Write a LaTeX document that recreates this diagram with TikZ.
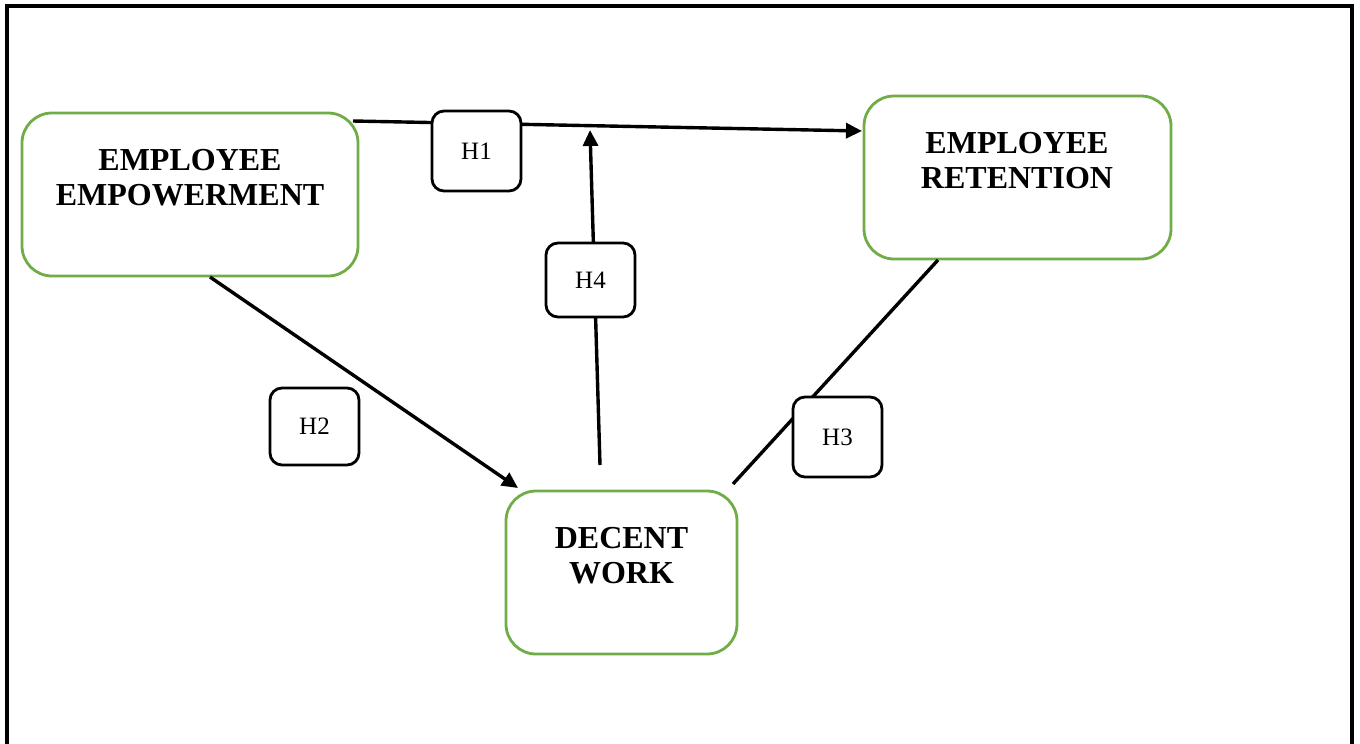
\documentclass[tikz,border=0pt]{standalone}
\usepackage{fontspec}
\setmainfont{Liberation Serif}
\usepackage{tikz}
\usetikzlibrary{arrows.meta}
\definecolor{boxgreen}{RGB}{112,173,71}

\begin{document}
\begin{tikzpicture}[x=1pt,y=-1pt,
		varbox/.style={draw=boxgreen, line width=2.8pt, rounded corners=30pt, fill=white, inner sep=0pt},
		vartext/.style={align=center, inner sep=0pt, font=\fontsize{32}{35}\selectfont\bfseries},
		hypbox/.style={draw, line width=2.8pt, rounded corners=12pt, fill=white, minimum width=89pt, minimum height=78pt, font=\fontsize{25}{30}\selectfont},
		link/.style={line width=3.4pt},
		arrowlink/.style={link, -{Triangle[length=16pt,width=15pt]}}]
		\useasboundingbox (0,0) rectangle (1360,744);
		\draw[line width=3.2pt] (7,744) -- (7,6) -- (1352,6) -- (1352,744);

		\node[varbox, minimum width=336pt, minimum height=163pt] (ee) at (190,194.5) {};
		\node[vartext] (eetext) at (190,178) {EMPLOYEE\\EMPOWERMENT};
		\node[varbox, minimum width=307pt, minimum height=163pt] (er) at (1017.5,177.5) {};
		\node[vartext] (ertext) at (1017,161) {EMPLOYEE\\RETENTION};
		\node[varbox, minimum width=231pt, minimum height=163pt] (dw) at (621.5,572.5) {};
		\node[vartext] (dwtext) at (621.5,556) {DECENT\\WORK};

		\coordinate (h1start) at (353,121);
		\coordinate (h1end) at (862,131);
		\coordinate (h2start) at (210,277);
		\coordinate (h2end) at (518,488);
		\coordinate (h3start) at (733,484);
		\coordinate (h3end) at (938,260);
		\coordinate (h4start) at (600,465);
		\coordinate (h4end) at (590,130);

		\draw[arrowlink] (h1start) to (h1end);
		\draw[arrowlink] (h2start) to (h2end);
		\draw[link] (h3start) to (h3end);
		\draw[arrowlink] (h4start) to (h4end);

		\node[hypbox, minimum height=80pt] (h1) at (476.5,151) {H1};
		\node[hypbox, minimum height=77pt] (h2) at (314.5,426.5) {H2};
		\node[hypbox, minimum height=80pt] (h3) at (837.5,437) {H3};
		\node[hypbox, minimum height=74pt] (h4) at (590.5,280) {H4};
\end{tikzpicture}
\end{document}
